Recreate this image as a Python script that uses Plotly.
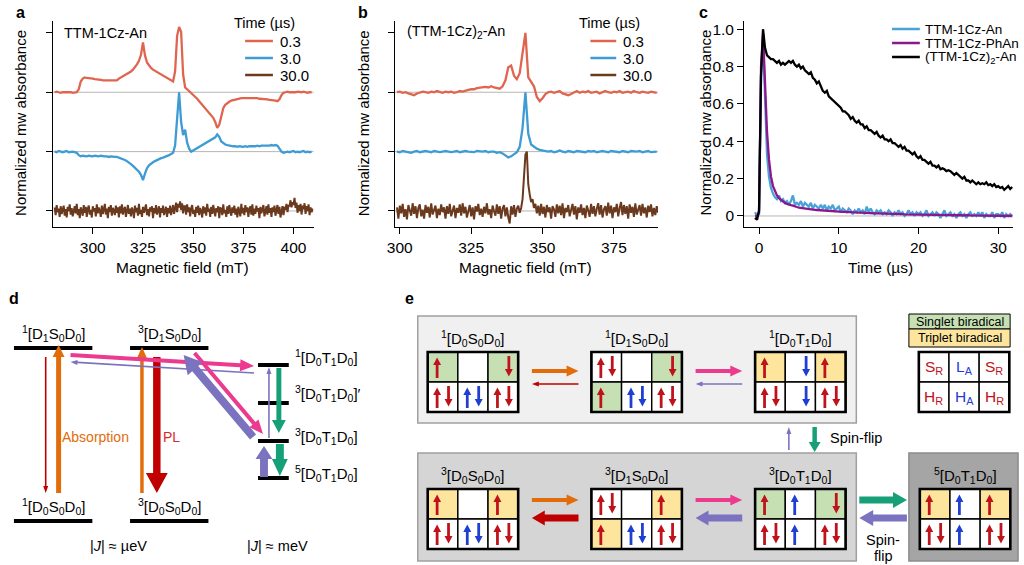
import numpy as np
import plotly.graph_objects as go

FONT = "Liberation Sans, Arial, Helvetica, sans-serif"

# ------------------------------------------------------------------ data
# panel a : field grid 1 mT from 281 mT (red, blue); 0.5 mT for the noisy brown trace
field_a_start = 281
red_a = [
    2.00, 2.01, 2.00, 1.99, 2.00, 2.00, 2.01, 2.00, 2.00, 1.99,   # 281
    2.00, 2.00, 2.05, 2.18, 2.23, 2.25, 2.24, 2.24, 2.23, 2.23,   # 291
    2.22, 2.22, 2.21, 2.21, 2.20, 2.20, 2.20, 2.19, 2.19, 2.19,   # 301
    2.19, 2.20, 2.23, 2.25, 2.26, 2.28, 2.30, 2.32, 2.35, 2.38,   # 311
    2.42, 2.47, 2.53, 2.63, 2.84, 2.62, 2.50, 2.45, 2.41, 2.38,   # 321
    2.36, 2.34, 2.31, 2.29, 2.27, 2.25, 2.23, 2.21, 2.19, 2.18,   # 331
    2.35, 2.95, 3.10, 3.02, 2.30, 2.08, 2.05, 2.02, 1.99, 1.96,   # 341
    1.93, 1.89, 1.85, 1.81, 1.78, 1.74, 1.70, 1.66, 1.62, 1.57,   # 351
    1.50, 1.40, 1.45, 1.62, 1.73, 1.79, 1.82, 1.84, 1.86, 1.87,   # 361
    1.88, 1.89, 1.89, 1.90, 1.90, 1.90, 1.91, 1.91, 1.90, 1.90,   # 371
    1.90, 1.90, 1.89, 1.89, 1.89, 1.88, 1.88, 1.87, 1.87, 1.86,   # 381
    1.86, 1.85, 1.88, 1.95, 1.99, 2.00, 2.01, 2.00, 2.00, 1.99,   # 391
    2.00, 2.01, 2.00, 2.00, 2.01, 2.00, 1.99, 2.00, 2.00,         # 401
]
blue_a = [
    1.00, 0.99, 1.01, 1.00, 0.99, 1.00, 1.01, 0.99, 1.00, 1.00,
    0.99, 0.98, 0.94, 0.92, 0.93, 0.92, 0.92, 0.93, 0.92, 0.92,
    0.93, 0.92, 0.92, 0.93, 0.92, 0.92, 0.92, 0.91, 0.92, 0.91,
    0.91, 0.91, 0.90, 0.89, 0.88, 0.86, 0.84, 0.82, 0.79, 0.76,
    0.73, 0.70, 0.66, 0.61, 0.52, 0.63, 0.72, 0.77, 0.80, 0.82,
    0.84, 0.86, 0.87, 0.89, 0.90, 0.91, 0.93, 0.94, 0.96, 0.98,
    1.10, 1.60, 2.00, 1.50, 1.28, 1.37, 1.15, 1.05, 1.00, 1.02,
    1.04, 1.06, 1.07, 1.09, 1.11, 1.13, 1.15, 1.17, 1.19, 1.21,
    1.24, 1.29, 1.25, 1.17, 1.14, 1.12, 1.11, 1.10, 1.10, 1.09,
    1.09, 1.08, 1.09, 1.08, 1.08, 1.09, 1.08, 1.09, 1.09, 1.08,
    1.09, 1.10, 1.09, 1.10, 1.10, 1.09, 1.10, 1.10, 1.11, 1.10,
    1.11, 1.10, 1.05, 1.00, 0.98, 0.99, 1.00, 0.99, 1.00, 1.01,
    0.99, 1.00, 0.99, 1.00, 1.01, 0.99, 1.00, 0.99, 1.00,
]
brown_step = 0.5
brown_a = [
    0.06, -0.07, 0.10, -0.02, 0.04, -0.10, 0.08, -0.05, 0.02, 0.09,     # 281
    -0.08, 0.03, -0.11, 0.07, 0.00, 0.11, -0.06, 0.05, -0.09, 0.02,     # 286
    0.08, -0.04, 0.12, -0.07, 0.03, -0.12, 0.06, 0.01, -0.08, 0.10,     # 291
    -0.03, 0.07, -0.10, 0.04, 0.09, -0.06, 0.02, -0.11, 0.08, -0.01,    # 296
    0.05, -0.09, 0.11, -0.04, 0.06, 0.00, -0.10, 0.09, -0.05, 0.03,     # 301
    0.12, -0.06, 0.04, -0.12, 0.07, -0.02, 0.10, -0.08, 0.05, 0.01,     # 306
    -0.07, 0.09, -0.03, 0.06, -0.11, 0.08, -0.04, 0.11, -0.06, 0.02,    # 311
    0.07, -0.10, 0.03, 0.10, -0.05, 0.04, -0.09, 0.06, 0.00, -0.12,     # 316
    0.09, -0.02, 0.05, -0.08, 0.12, -0.05, 0.02, -0.10, 0.07, -0.03,    # 321
    0.04, 0.11, -0.07, 0.03, -0.09, 0.06, -0.01, 0.08, -0.12, 0.05,     # 326
    -0.04, 0.10, -0.06, 0.02, 0.08, -0.11, 0.05, -0.03, 0.09, -0.07,    # 331
    0.01, 0.07, -0.10, 0.05, -0.04, 0.09, -0.07, 0.03, 0.10, -0.05,     # 336
    0.08, 0.14, -0.02, 0.12, 0.06, 0.16, 0.02, 0.13, -0.04, 0.08,       # 341
    0.08, -0.06, 0.11, -0.02, 0.06, -0.09, 0.04, 0.10, -0.05, 0.02,     # 346
    -0.10, 0.07, -0.03, 0.09, -0.07, 0.05, 0.00, -0.11, 0.08, -0.04,    # 351
    0.06, -0.08, 0.12, -0.01, 0.04, -0.10, 0.07, -0.05, 0.10, 0.01,     # 356
    -0.09, 0.05, -0.02, 0.08, -0.12, 0.06, 0.03, -0.07, 0.11, -0.04,    # 361
    0.02, -0.10, 0.08, -0.05, 0.10, 0.00, -0.08, 0.06, -0.03, 0.09,     # 366
    -0.06, 0.04, -0.11, 0.07, 0.01, -0.09, 0.12, -0.04, 0.05, -0.07,    # 371
    0.10, -0.02, 0.06, -0.10, 0.03, 0.08, -0.06, 0.11, -0.08, 0.04,     # 376
    -0.05, 0.09, -0.01, 0.05, -0.12, 0.07, -0.04, 0.02, 0.10, -0.09,    # 381
    0.03, 0.08, -0.06, 0.11, -0.03, 0.05, -0.10, 0.06, -0.02, 0.09,     # 386
    -0.08, 0.04, 0.10, -0.05, 0.07, -0.11, 0.03, 0.08, -0.07, 0.05,     # 391
    0.04, 0.12, -0.02, 0.10, 0.08, 0.18, 0.06, 0.15, 0.10, 0.22,       # 396
    0.05, 0.14, -0.03, 0.10, 0.00, 0.12, -0.06, 0.09, 0.03, 0.13,       # 401
    -0.05, 0.08, 0.00, 0.11, -0.07, 0.06, -0.02, 0.04,                  # 406
]

# panel b : field grid 1 mT from 299 mT (red, blue); 0.5 mT for brown
field_b_start = 299
red_b = [
    2.00, 2.01, 1.99, 2.00, 1.98, 1.97, 1.95, 1.98, 2.00, 2.01,   # 299
    2.00, 1.99, 2.01, 2.00, 2.02, 2.00, 1.99, 2.01, 2.00, 2.01,   # 309
    1.99, 2.00, 2.02, 2.01, 2.03, 2.04, 2.05, 2.05, 2.07, 2.08,   # 319
    2.09, 2.09, 2.08, 2.10, 2.08, 2.07, 2.06, 2.10, 2.20, 2.42,   # 329
    2.45, 2.28, 2.22, 2.32, 2.70, 3.00, 2.25, 2.17, 2.10, 1.92,   # 339
    1.85, 1.90, 1.97, 2.00, 2.01, 1.99, 2.00, 2.02, 1.98, 1.96,   # 349
    1.95, 1.97, 2.00, 2.02, 1.99, 2.01, 2.00, 2.02, 1.99, 2.00,   # 359
    2.01, 1.98, 2.00, 2.02, 2.00, 1.99, 2.01, 2.00, 2.02, 1.99,   # 369
    2.00, 2.01, 1.99, 2.02, 2.00, 1.99, 2.01, 2.00, 1.99, 2.01,   # 379
    2.00, 1.99,                                                   # 389
]
blue_b = [
    1.00, 0.99, 1.01, 1.00, 1.00, 0.98, 1.00, 1.01, 0.99, 1.00,
    1.01, 1.00, 0.99, 1.01, 1.00, 0.99, 1.00, 1.01, 1.00, 0.99,
    1.00, 1.01, 0.99, 1.00, 1.01, 1.00, 1.00, 0.99, 1.01, 1.00,
    1.00, 1.01, 0.99, 1.00, 1.00, 0.98, 0.99, 0.97, 0.94, 0.90,
    0.92, 0.96, 0.99, 1.08, 1.40, 2.00, 1.30, 1.12, 1.08, 1.05,
    1.03, 1.02, 1.01, 1.00, 1.01, 0.99, 1.00, 1.02, 1.00, 0.99,
    1.01, 1.00, 0.99, 1.01, 1.00, 1.00, 0.99, 1.01, 1.00, 1.01,
    0.99, 1.00, 1.01, 1.00, 0.99, 1.01, 1.00, 1.00, 0.99, 1.01,
    1.00, 0.99, 1.01, 1.00, 1.00, 1.01, 0.99, 1.00, 1.01, 0.99,
    1.00, 1.00,
]
brown_b = [
    0.06, -0.13, 0.09, -0.04, 0.12, -0.10, 0.03, -0.14, 0.10, 0.01,     # 299
    -0.08, 0.13, -0.05, 0.08, -0.12, 0.05, 0.11, -0.09, 0.02, -0.13,    # 304
    0.10, -0.03, 0.07, -0.11, 0.13, -0.06, 0.02, 0.09, -0.12, 0.04,     # 309
    -0.07, 0.11, -0.02, 0.06, -0.13, 0.08, -0.05, 0.12, -0.09, 0.03,    # 314
    0.09, -0.12, 0.05, -0.03, 0.11, -0.08, 0.13, -0.04, 0.07, -0.11,    # 319
    0.02, 0.10, -0.09, 0.06, -0.14, 0.08, -0.01, 0.12, -0.07, 0.04,     # 324
    -0.10, 0.07, -0.04, 0.13, -0.06, 0.03, -0.12, 0.09, 0.00, -0.08,    # 329
    0.11, -0.05, 0.08, -0.13, 0.04, 0.10, -0.09, 0.06, -0.11, -0.21,    # 334
    0.08, -0.06, 0.10, -0.10, 0.04, 0.09, -0.03, 0.05, 0.20, 0.55,      # 339
    0.95, 1.00, 0.45, 0.28, 0.15, 0.20, 0.05, 0.12, -0.04, 0.09,        # 344
    -0.08, 0.12, -0.05, 0.07, -0.11, 0.10, -0.02, 0.06, -0.13, 0.08,    # 349
    0.03, -0.10, 0.11, -0.04, 0.09, -0.07, 0.13, -0.12, 0.05, -0.02,    # 354
    0.10, -0.09, 0.04, 0.12, -0.06, 0.08, -0.14, 0.06, -0.03, 0.11,     # 359
    -0.07, 0.05, -0.12, 0.09, 0.01, -0.10, 0.12, -0.05, 0.08, -0.09,    # 364
    0.04, 0.13, -0.06, 0.10, -0.11, 0.03, 0.08, -0.08, 0.14, -0.04,     # 369
    0.09, -0.12, 0.06, -0.02, 0.12, -0.09, 0.05, 0.15, -0.07, 0.10,     # 374
    -0.05, 0.08, -0.13, 0.11, -0.03, 0.07, -0.10, 0.13, -0.06, 0.04,    # 379
    0.10, -0.08, 0.12, -0.04, 0.06, -0.11, 0.09, -0.02, 0.11, -0.09,    # 384
    0.05, -0.07, 0.08, -0.03,                                           # 389
]

# panel c : time grid 0.25 us from -0.5 us
time_start, time_step = -0.5, 0.25
blue_c = [
    0.02, 0.00,
    0.01, 0.75, 0.95, 0.58,
    0.33, 0.21, 0.15, 0.12,  0.10, 0.09, 0.11, 0.08,  0.09, 0.07, 0.08, 0.06,
    0.08, 0.11, 0.06, 0.07,  0.06, 0.08, 0.05, 0.07,  0.06, 0.05, 0.07, 0.04,
    0.06, 0.05, 0.04, 0.06,  0.04, 0.06, 0.03, 0.05,  0.04, 0.06, 0.03, 0.04,
    0.05, 0.02, 0.04, 0.03,  0.02, 0.04, 0.03, 0.01,  0.03, 0.02, 0.04, 0.02,
    0.03, 0.01, 0.05, 0.02,  0.04, 0.02, 0.01, 0.03,  0.02, 0.03, 0.01, 0.02,
    0.01, 0.03, 0.02, 0.00,  0.02, 0.01, 0.03, 0.01,  0.02, 0.00, 0.01, 0.03,
    0.01, 0.02, 0.00, 0.02,  0.01, 0.02, 0.00, 0.01,  0.03, 0.00, 0.01, 0.02,
    0.00, 0.02, 0.01, -0.01, 0.01, 0.03, 0.00, 0.01,  0.02, 0.00, 0.01, -0.01,
    0.01, 0.02, 0.00, 0.01,  -0.01, 0.01, 0.02, 0.00, 0.01, 0.00, 0.02, 0.00,
    0.02, -0.01, 0.01, 0.00, 0.00, 0.02, -0.01, 0.01, 0.01, 0.00, 0.02, -0.01,
    0.01, 0.00, 0.01, 0.00,
]
purple_c = [
    0.00, 0.00,
    0.02, 0.80, 0.98, 0.72,
    0.45, 0.30, 0.21, 0.16,  0.13, 0.11, 0.095, 0.085,  0.075, 0.07, 0.065, 0.06,
    0.058, 0.055, 0.05, 0.048,  0.045, 0.043, 0.041, 0.04,  0.038, 0.036, 0.035, 0.034,
    0.033, 0.032, 0.031, 0.03,  0.03, 0.029, 0.028, 0.027,  0.026, 0.025, 0.025, 0.024,
    0.024, 0.023, 0.022, 0.022,  0.021, 0.021, 0.02, 0.02,  0.019, 0.019, 0.018, 0.018,
    0.017, 0.017, 0.016, 0.016,  0.015, 0.015, 0.014, 0.014,  0.014, 0.013, 0.013, 0.012,
    0.012, 0.012, 0.011, 0.011,  0.011, 0.010, 0.010, 0.010,  0.010, 0.009, 0.009, 0.009,
    0.009, 0.008, 0.009, 0.008,  0.008, 0.007, 0.008, 0.007,  0.007, 0.007, 0.006, 0.007,
    0.006, 0.006, 0.005, 0.006,  0.005, 0.006, 0.005, 0.005,  0.005, 0.004, 0.005, 0.004,
    0.004, 0.004, 0.003, 0.004,  0.003, 0.004, 0.003, 0.003,  0.003, 0.002, 0.003, 0.002,
    0.002, 0.002, 0.001, 0.002,  0.001, 0.002, 0.001, 0.001,  0.001, 0.000, 0.001, 0.000,
    0.000, 0.001, 0.000, 0.000,
]
black_c = [
    -0.01, -0.02,
    0.03, 0.75, 1.00, 0.90,
    0.86, 0.85, 0.84, 0.84,  0.83, 0.82, 0.83, 0.81,  0.82, 0.81, 0.82, 0.83,
    0.82, 0.83, 0.81, 0.80,  0.81, 0.79, 0.80, 0.78,  0.77, 0.76, 0.77, 0.74,
    0.73, 0.71, 0.72, 0.69,  0.67, 0.66, 0.67, 0.64,  0.63, 0.62, 0.61, 0.60,
    0.59, 0.58, 0.56, 0.56,  0.55, 0.54, 0.52, 0.53,  0.51, 0.50, 0.51, 0.49,
    0.49, 0.47, 0.48, 0.46,  0.46, 0.45, 0.44, 0.45,  0.43, 0.42, 0.43, 0.41,
    0.41, 0.40, 0.41, 0.39,  0.39, 0.38, 0.37, 0.38,  0.36, 0.37, 0.35, 0.35,
    0.34, 0.33, 0.34, 0.32,  0.31, 0.32, 0.30, 0.30,  0.29, 0.28, 0.29, 0.27,
    0.27, 0.26, 0.27, 0.25,  0.255, 0.25, 0.24, 0.245,  0.24, 0.23, 0.22, 0.23,
    0.22, 0.21, 0.20, 0.21,  0.19, 0.19, 0.18, 0.19,  0.18, 0.17, 0.18, 0.17,
    0.175, 0.17, 0.18, 0.165,  0.17, 0.16, 0.17, 0.155,  0.16, 0.15, 0.155, 0.14,
    0.15, 0.16, 0.145, 0.155,
]

ticks_a = [300, 325, 350, 375, 400]
ticks_b = [300, 325, 350, 375]
ticks_cx = [0, 10, 20, 30]
ticks_cy = [0, 0.2, 0.4, 0.6, 0.8, 1.0]
labels_cy = ["0", "0.2", "0.4", "0.6", "0.8", "1.0"]
legend_times = ["0.3", "3.0", "30.0"]
legend_c = ["TTM-1Cz-An", "TTM-1Cz-PhAn", "(TTM-1Cz)<sub>2</sub>-An"]

# ------------------------------------------------------------------ styles
RED, BLUE, BROWN = "#e0654f", "#3f9bd3", "#6b3a1e"
BLUE_C, PURPLE_C = "#4aa3d8", "#8c168c"
C = dict(orange="#e36c0a", darkred="#c00000", magenta="#ec3a8f",
         purple="#7b73bf", green="#17a078", pl="#d42a2a")
CELL_RED, CELL_BLUE = "#c0121a", "#1e3fd2"
FILL = {"g": "#c6e0b4", "y": "#fde59e", "w": "#ffffff"}
TICK_FS, TITLE_FS, SMALL_FS = 15.5, 15, 14.5

fig = go.Figure()


def line_trace(x, y, color, xa, ya, width=2.3):
    fig.add_trace(go.Scatter(x=x, y=y, mode="lines", line=dict(color=color, width=width),
                             xaxis=xa, yaxis=ya, showlegend=False, hoverinfo="skip"))


grid = lambda start, arr, step=1.0: start + step * np.arange(len(arr))
line_trace(grid(field_a_start, red_a), red_a, RED, "x", "y")
line_trace(grid(field_a_start, blue_a), blue_a, BLUE, "x", "y")
line_trace(grid(field_a_start, brown_a, brown_step), brown_a, BROWN, "x", "y", 2.0)
line_trace(grid(field_b_start, red_b), red_b, RED, "x2", "y2")
line_trace(grid(field_b_start, blue_b), blue_b, BLUE, "x2", "y2")
line_trace(grid(field_b_start, brown_b, brown_step), brown_b, BROWN, "x2", "y2", 2.0)
line_trace(grid(time_start, blue_c, time_step), blue_c, BLUE_C, "x3", "y3")
line_trace(grid(time_start, purple_c, time_step), purple_c, PURPLE_C, "x3", "y3")
line_trace(grid(time_start, black_c, time_step), black_c, "black", "x3", "y3")
# overlay canvas for the schematic panels (pixel units)
fig.add_trace(go.Scatter(x=[None], y=[None], xaxis="x4", yaxis="y4", showlegend=False))

ann, shp = [], []


def text(x, y, s, size=14, color="black", xanchor="center", yanchor="middle", angle=0):
    ann.append(dict(x=x, y=y, xref="x4", yref="y4", text=s, showarrow=False,
                    xanchor=xanchor, yanchor=yanchor, textangle=angle,
                    font=dict(size=size, color=color, family=FONT)))


def rect(x0, y0, x1, y1, fill, lc="black", lw=1.0, layer="above"):
    shp.append(dict(type="rect", xref="x4", yref="y4", x0=x0, y0=y0, x1=x1, y1=y1,
                    fillcolor=fill, line=dict(color=lc, width=lw), layer=layer))


def seg(x0, y0, x1, y1, color, w):
    shp.append(dict(type="line", xref="x4", yref="y4", x0=x0, y0=y0, x1=x1, y1=y1,
                    line=dict(color=color, width=w), layer="above"))


def arrow(tx, ty, hx, hy, color, w, hw, hl):
    """filled arrow polygon: shaft width w, head width hw, head length hl"""
    d = np.hypot(hx - tx, hy - ty)
    ux, uy = (hx - tx) / d, (hy - ty) / d
    nx, ny = -uy, ux
    bx, by = hx - ux * hl, hy - uy * hl
    pts = [(tx + nx * w / 2, ty + ny * w / 2), (bx + nx * w / 2, by + ny * w / 2),
           (bx + nx * hw / 2, by + ny * hw / 2), (hx, hy),
           (bx - nx * hw / 2, by - ny * hw / 2), (bx - nx * w / 2, by - ny * w / 2),
           (tx - nx * w / 2, ty - ny * w / 2)]
    path = "M " + " L ".join("%.2f,%.2f" % p for p in pts) + " Z"
    shp.append(dict(type="path", xref="x4", yref="y4", path=path, fillcolor=color,
                    line=dict(width=0), layer="above"))


# ------------------------------------------------------------------ chart decorations
for lab, x, y in [("a", 13, 12), ("b", 358, 12), ("c", 701, 12), ("d", 6, 298), ("e", 405, 298)]:
    text(x, y, "<b>%s</b>" % lab, size=16)

for x in (12, 358, 702):
    text(x, 123, "Normalized mw absorbance", size=TITLE_FS, angle=-90)
text(176, 267, "Magnetic field (mT)", size=TITLE_FS + 0.5)
text(522, 267, "Magnetic field (mT)", size=TITLE_FS + 0.5)
text(879, 267, "Time (µs)", size=TITLE_FS + 0.5)

text(54, 33, "TTM-1Cz-An", size=SMALL_FS, xanchor="left")
text(400, 32, "(TTM-1Cz)<sub>2</sub>-An", size=SMALL_FS, xanchor="left")

for (lx0, lx1, tx, title_x) in [(239, 267, 272, 259), (587, 613, 618, 606)]:
    text(title_x, 23, "Time (µs)", size=SMALL_FS)
    for i, (lab, col) in enumerate(zip(legend_times, [RED, BLUE, BROWN])):
        yy = [41, 58, 75][i]
        seg(lx0, yy, lx1, yy, col, 2.5)
        text(tx, yy, lab, size=SMALL_FS + 0.5, xanchor="left")
for i, (lab, col) in enumerate(zip(legend_c, [BLUE_C, PURPLE_C, "black"])):
    yy = [29, 43, 57][i]
    seg(891, yy, 919, yy, col, 2.5)
    text(922, yy, lab, size=13.5, xanchor="left")

# ------------------------------------------------------------------ panel d
def lab3(mult, a, mid, b):
    return "<sup>%s</sup>[D<sub>%s</sub>%s<sub>%s</sub>D<sub>0</sub>]" % (mult, a, mid, b)


levels_left = [(6, 85, 348, lab3("1", "1", "S", "0")), (123, 202, 348, lab3("3", "1", "S", "0")),
               (6, 85, 521, lab3("1", "0", "S", "0")), (123, 202, 521, lab3("3", "0", "S", "0"))]
for x0, x1, y, lab in levels_left:
    seg(x0, y, x1, y, "black", 4)
    text((x0 + x1) / 2, y - 15, lab, size=15)
levels_right = [(365, 357, lab3("1", "0", "T", "1")),
                (403, 393, lab3("3", "0", "T", "1") + "′"),
                (441, 436, lab3("3", "0", "T", "1")),
                (478, 473, lab3("5", "0", "T", "1"))]
for y, ty, lab in levels_right:
    seg(252, y, 283, y, "black", 4)
    text(287, ty, lab, size=15, xanchor="left")

text(88, 437, "Absorption", size=14, color=C["orange"])
text(165, 437, "PL", size=14, color=C["pl"])
text(111, 546, "|<i>J</i>| ≈ µeV", size=14.5)
text(272, 546, "|<i>J</i>| ≈ meV", size=14.5)

# (tail x, tail y, tip x, tip y, colour, shaft, head width, head length)
d_arrows = [
    (38, 357, 38, 493, "darkred", 1.6, 5, 7),
    (51, 493, 51, 345, "orange", 5, 12, 12),
    (135, 493, 135, 347, "orange", 3.5, 10, 11),
    (150, 357, 150, 493, "darkred", 7.5, 22, 20),
    (63, 355, 248, 366, "magenta", 4, 12, 14),
    (248, 373, 63, 362, "purple", 1.6, 5, 7),
    (188, 353, 257, 434, "magenta", 4, 12, 14),
    (247, 437, 177, 355, "purple", 8, 20, 18),
    (263, 438, 263, 367, "purple", 1.6, 5, 7),
    (273, 368, 273, 433, "green", 5, 14, 13),
    (258, 477, 258, 446, "purple", 8, 17, 13),
    (274, 444, 274, 476, "green", 8, 16, 17),
]
for tx, ty, hx, hy, col, w, hw, hl in d_arrows:
    arrow(tx, ty, hx, hy, C[col], w, hw, hl)

# ------------------------------------------------------------------ panel e
rect(413, 316, 855, 423, "#f0f0f0", "#a0a0a0", 1.5)
rect(413, 453, 855, 561, "#d5d5d5", "#a0a0a0", 1.5)
rect(908, 453, 1018, 561, "#a5a5a5", "#8c8c8c", 1.5)

CW, CH = 30.4, 30
grid_labels = [lab3("1", "0", "S", "0"), lab3("1", "1", "S", "0"), lab3("1", "0", "T", "1"),
               lab3("3", "0", "S", "0"), lab3("3", "1", "S", "0"), lab3("3", "0", "T", "1"),
               lab3("5", "0", "T", "1")]
grid_cells = [
    ["gR^", "w", "gRv", "wR^v", "wB^v", "wR^v"],
    ["wR^v", "w", "gRv", "gR^", "wB^v", "wR^v"],
    ["yR^", "wBv", "yR^", "wR^v", "wBv", "wR^v"],
    ["yR^", "w", "yR^", "wR^v", "wB^v", "wR^v"],
    ["wR^v", "w", "yR^", "yR^", "wB^v", "wR^v"],
    ["gR^", "wB^", "gRv", "wR^v", "wB^", "wR^v"],
    ["yR^", "wB^", "yR^", "wR^v", "wB^", "wR^v"],
]
grid_pos = [(423, 352), (588, 352), (753, 352), (423, 489), (588, 489), (753, 489), (919, 489)]

for (x0, y0), cells, lab in zip(grid_pos, grid_cells, grid_labels):
    text(x0 + 1.5 * CW, y0 - 14, lab, size=15)
    for i, spec in enumerate(cells):
        r, c = divmod(i, 3)
        cx, cy = x0 + c * CW, y0 + r * CH
        rect(cx, cy, cx + CW, cy + CH, FILL[spec[0]], "black", 1.4)
    for i, spec in enumerate(cells):
        r, c = divmod(i, 3)
        cx, cy = x0 + c * CW, y0 + r * CH
        if len(spec) > 1:
            col = CELL_RED if spec[1] == "R" else CELL_BLUE
            if "^" in spec:
                arrow(cx + 9.5, cy + 26, cx + 9.5, cy + 5.5, col, 2.8, 8, 7.5)
            if "v" in spec:
                arrow(cx + 21, cy + 4, cx + 21, cy + 24.5, col, 2.8, 8, 7.5)
    rect(x0, y0, x0 + 3 * CW, y0 + 2 * CH, "rgba(0,0,0,0)", "black", 2.6)

# key
rect(908, 314, 1010, 329, FILL["g"], "black", 1)
rect(908, 329, 1010, 347, FILL["y"], "black", 1)
text(959, 321.5, "Singlet biradical", size=12.5)
text(959, 338, "Triplet biradical", size=12.5)
key_text = ["S<sub>R</sub>", "L<sub>A</sub>", "S<sub>R</sub>", "H<sub>R</sub>", "H<sub>A</sub>", "H<sub>R</sub>"]
key_col = [CELL_RED, CELL_BLUE, CELL_RED, CELL_RED, CELL_BLUE, CELL_RED]
kx0, ky0 = 918, 352
for i, (t, col) in enumerate(zip(key_text, key_col)):
    r, c = divmod(i, 3)
    rect(kx0 + c * CW, ky0 + r * CH, kx0 + (c + 1) * CW, ky0 + (r + 1) * CH, "white", "black", 1.4)
    text(kx0 + c * CW + CW / 2, ky0 + r * CH + CH / 2, t, size=15.5, color=col)
rect(kx0, ky0, kx0 + 3 * CW, ky0 + 2 * CH, "rgba(0,0,0,0)", "black", 2.6)

e_arrows = [
    (528, 371, 575, 371, "orange", 4, 11, 12),
    (575, 384, 528, 384, "darkred", 1.6, 5, 7),
    (693, 371, 740, 371, "magenta", 4, 11, 12),
    (740, 384, 693, 384, "purple", 1.6, 5, 7),
    (528, 500, 575, 500, "orange", 4, 11, 12),
    (575, 518, 528, 518, "darkred", 7, 15, 13),
    (693, 500, 740, 500, "magenta", 4, 11, 12),
    (740, 518, 693, 518, "purple", 7, 15, 13),
    (787, 450, 787, 427, "purple", 1.6, 5, 7),
    (813, 427, 813, 452, "green", 4.5, 12, 10),
    (858, 500, 906, 500, "green", 7, 16, 14),
    (906, 518, 858, 518, "purple", 7, 16, 14),
]
for tx, ty, hx, hy, col, w, hw, hl in e_arrows:
    arrow(tx, ty, hx, hy, C[col], w, hw, hl)
text(855, 438, "Spin-flip", size=14.5)
text(882, 540, "Spin-", size=14.5)
text(882, 556, "flip", size=14.5)

# grey baselines
for ya, vals in (("y", [0, 1, 2]), ("y2", [0, 1, 2]), ("y3", [0])):
    xr = {"y": "x", "y2": "x2", "y3": "x3"}[ya]
    for v in vals:
        shp.append(dict(type="line", xref=xr + " domain", yref=ya, x0=0, x1=1, y0=v, y1=v,
                        line=dict(color="#b5b5b5", width=1), layer="below"))

# ------------------------------------------------------------------ axes
W, H = 1024, 565
common = dict(showline=True, linecolor="black", linewidth=1.2, ticks="outside", ticklen=6,
              tickwidth=1.2, tickcolor="black", showgrid=False, zeroline=False,
              tickfont=dict(size=TICK_FS, family=FONT, color="black"), fixedrange=True)
ydom = [1 - 227 / H, 1 - 21 / H]
fig.update_layout(
    width=W, height=H, margin=dict(l=0, r=0, t=0, b=0),
    paper_bgcolor="white", plot_bgcolor="rgba(0,0,0,0)",
    font=dict(family=FONT, color="black"),
    xaxis=dict(common, domain=[45 / W, 308 / W], range=[280, 410], tickvals=ticks_a, anchor="y"),
    yaxis=dict(common, domain=ydom, range=[-0.27, 3.2], tickvals=[0, 1, 2, 3], showticklabels=False, anchor="x"),
    xaxis2=dict(common, domain=[390 / W, 655 / W], range=[298.3, 390.4], tickvals=ticks_b, anchor="y2"),
    yaxis2=dict(common, domain=ydom, range=[-0.27, 3.2], tickvals=[0, 1, 2, 3], showticklabels=False, anchor="x2"),
    xaxis3=dict(common, domain=[742 / W, 1013 / W], range=[-1.86, 31.86], tickvals=ticks_cx, anchor="y3"),
    yaxis3=dict(common, domain=ydom, range=[-0.059, 1.044], tickvals=ticks_cy, ticktext=labels_cy, anchor="x3"),
    xaxis4=dict(domain=[0, 1], range=[0, W], visible=False, fixedrange=True, anchor="y4"),
    yaxis4=dict(domain=[0, 1], range=[H, 0], visible=False, fixedrange=True, anchor="x4"),
    annotations=ann, shapes=shp,
)

fig.write_html("out.html")
